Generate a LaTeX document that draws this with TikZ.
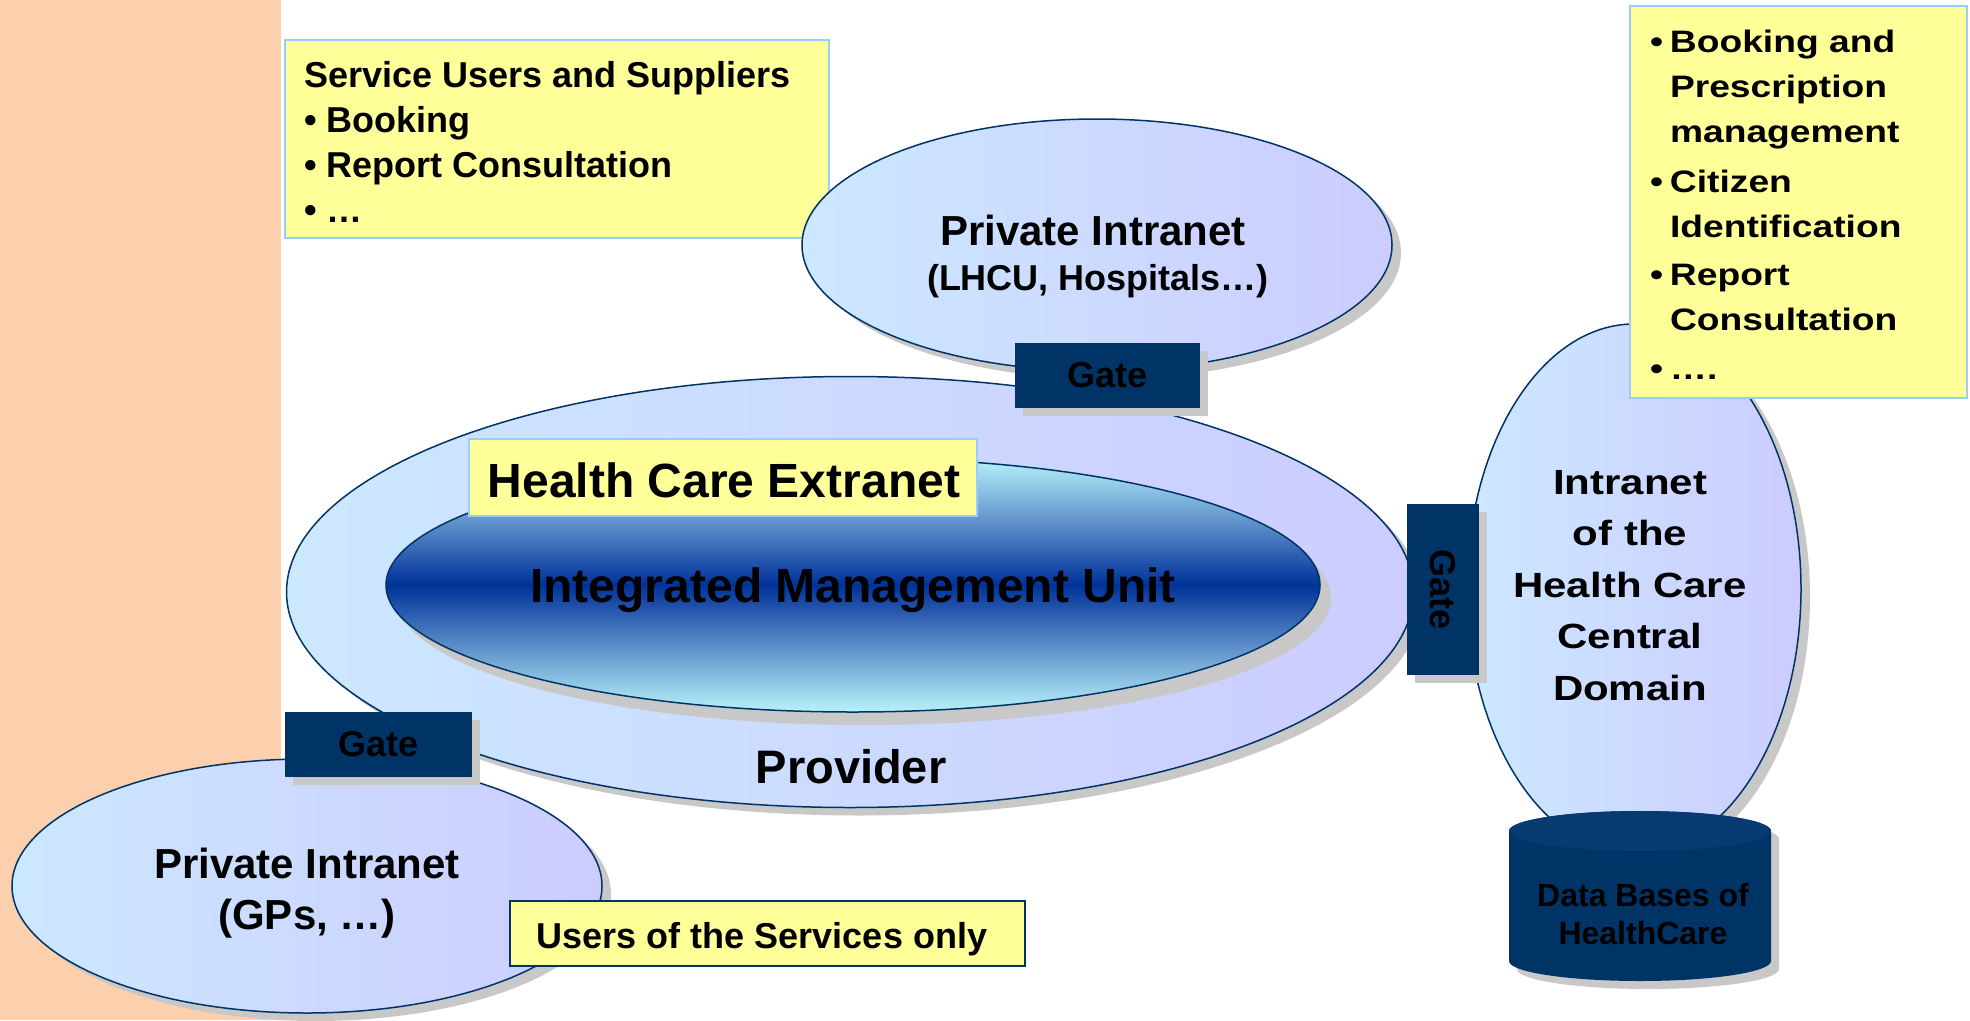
\documentclass[tikz,border=0pt]{standalone}
\usepackage{fontspec}
\setmainfont{Liberation Sans}
\newfontfamily\widesans[FakeStretch=1.2]{Liberation Sans}
\usetikzlibrary{shapes.geometric,shadows}
\definecolor{navy}{RGB}{0,51,102}
\definecolor{peach}{RGB}{252,207,173}
\definecolor{lbL}{RGB}{204,232,255}
\definecolor{lbR}{RGB}{204,204,255}
\definecolor{ylw}{RGB}{255,255,153}
\definecolor{ybord}{RGB}{153,204,255}
\definecolor{shd}{RGB}{200,200,200}
\definecolor{cyanl}{RGB}{184,242,250}
\definecolor{midb}{RGB}{100,150,205}
\definecolor{darkb}{RGB}{30,80,170}
\definecolor{deepb}{RGB}{0,51,153}
\definecolor{dbtop}{RGB}{6,58,112}
\pgfdeclareverticalshading{imushade}{100bp}{color(0bp)=(cyanl); color(25bp)=(cyanl); color(37bp)=(midb); color(46bp)=(darkb); color(50bp)=(deepb); color(54bp)=(darkb); color(63bp)=(midb); color(75bp)=(cyanl); color(100bp)=(cyanl)}
\tikzset{
  blob/.style={ellipse, draw=navy, line width=1.5pt, left color=lbL, right color=lbR, inner sep=0pt, outer sep=0pt,
    drop shadow={shadow xshift=9pt, shadow yshift=-8pt, fill=shd, opacity=1}},
  gatebox/.style={rectangle, fill=navy, inner sep=0pt, text=black, font=\fontsize{36}{40}\selectfont\bfseries,
    drop shadow={shadow xshift=8pt, shadow yshift=-8pt, fill=shd, opacity=1}},
  note/.style={rectangle, fill=ylw, draw=ybord, line width=1.2pt, inner sep=0pt},
  txt/.style={inner sep=0pt, outer sep=0pt, text=black},
}
\begin{document}
\begin{tikzpicture}[x=1pt,y=-1pt]
\useasboundingbox (0,0) rectangle (1970,1020);
% left panel
\node[fill=peach, minimum width=281pt, minimum height=1020pt, inner sep=0pt, anchor=north west] (panel) at (0,0) {};

% top-left note
\node[note, minimum width=544pt, minimum height=198pt] (noteTL) at (557,139) {};
\node[txt, anchor=north west, align=left, font=\fontsize{36}{45}\selectfont\bfseries] (noteTLtxt) at (304,61)
  {Service Users and Suppliers\\• Booking\\• Report Consultation\\• …};

% top private intranet
\node[blob, minimum width=590pt, minimum height=252pt] (piTop) at (1097,245) {};
\node[txt, anchor=base, font=\fontsize{42}{48}\selectfont\bfseries] (piTopA) at (1093,245) {Private Intranet};
\node[txt, anchor=base, font=\fontsize{36}{42}\selectfont\bfseries] (piTopB) at (1098,290) {(LHCU, Hospitals…)};

% provider
\node[blob, minimum width=1127pt, minimum height=431pt] (prov) at (850,592) {};
\node[ellipse, draw=navy, line width=1.5pt, shade, shading=imushade, inner sep=0pt, minimum width=934pt, minimum height=254pt,
  drop shadow={shadow xshift=11pt, shadow yshift=-13pt, fill=shd, opacity=1}] (imu) at (853,585) {};
\node[txt, anchor=base, font=\fontsize{48}{54}\selectfont\bfseries] (imuT) at (853,602) {Integrated Management Unit};
\node[note, minimum width=508pt, minimum height=77pt] (hce) at (723,477.5) {};
\node[txt, anchor=base, font=\fontsize{48}{54}\selectfont\bfseries] (hceT) at (724,497) {Health Care Extranet};
\node[txt, anchor=base, font=\fontsize{47}{54}\selectfont\bfseries] (provT) at (851,783) {Provider};

% top gate
\node[gatebox, minimum width=185pt, minimum height=65pt] (gTop) at (1107.5,375.5) {Gate};

% central domain
\node[blob, minimum width=334pt, minimum height=530pt] (cdom) at (1634,589) {};
\node[txt, anchor=north, align=center, font=\fontsize{35}{51.5}\widesans\bfseries] (cdomT) at (1630,470)
  {Intranet\\of the\\Health Care\\Central\\Domain};

% right note
\node[note, minimum width=337pt, minimum height=392pt] (noteR) at (1798.5,202) {};
\node[txt, anchor=north west, align=left, font=\fontsize{31}{45}\widesans\bfseries] (noteRtxt) at (1650,30.5)
  {\makebox[20pt][l]{•}Booking and\\\hspace*{20pt}Prescription\\\hspace*{20pt}management\\[5pt]
   \makebox[20pt][l]{•}Citizen\\\hspace*{20pt}Identification\\[3pt]
   \makebox[20pt][l]{•}Report\\\hspace*{20pt}Consultation\\[4pt]
   \makebox[20pt][l]{•}….};

% right gate
\node[gatebox, minimum width=72pt, minimum height=171pt] (gR) at (1443,589.5) {\rotatebox{-90}{Gate}};

% database cylinder
\begin{scope}[shift={(8,8)}]
\fill[shd] (1509,831) -- (1509,961) arc[start angle=180,end angle=360,x radius=131pt,y radius=20pt]
  -- (1771,831) arc[start angle=0,end angle=180,x radius=131pt,y radius=20pt] -- cycle;
\end{scope}
\fill[navy] (1509,831) -- (1509,961) arc[start angle=180,end angle=360,x radius=131pt,y radius=20pt]
  -- (1771,831) arc[start angle=0,end angle=180,x radius=131pt,y radius=20pt] -- cycle;
\fill[dbtop] (1640,831) ellipse[x radius=131pt, y radius=20pt];
\node[txt, anchor=north, align=center, font=\fontsize{32}{38}\selectfont\bfseries] (dbT) at (1643,883)
  {Data Bases of\\HealthCare};

% bottom-left private intranet
\node[blob, minimum width=590pt, minimum height=254pt] (piBot) at (307,886) {};
\node[txt, anchor=base, font=\fontsize{42}{48}\selectfont\bfseries] (piBotA) at (307,878) {Private Intranet};
\node[txt, anchor=base, font=\fontsize{42}{48}\selectfont\bfseries] (piBotB) at (307,929) {(GPs, …)};

% left gate
\node[gatebox, minimum width=187pt, minimum height=65pt] (gL) at (378.5,744.5) {Gate};

% users note
\node[note, draw=navy, minimum width=515pt, minimum height=65pt] (users) at (767.5,933.5) {};
\node[txt, anchor=base, font=\fontsize{36}{42}\selectfont\bfseries] (usersT) at (762,948) {Users of the Services only};
\end{tikzpicture}
\end{document}
